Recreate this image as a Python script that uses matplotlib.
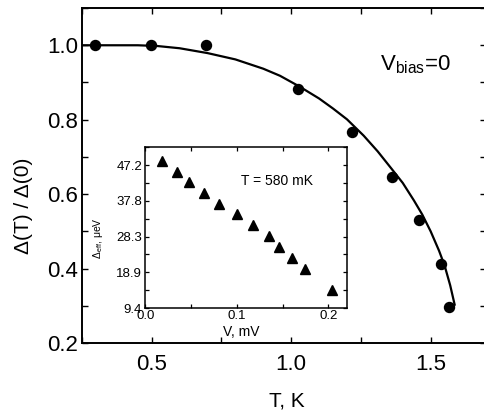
import matplotlib
matplotlib.use("Agg")
import matplotlib.pyplot as plt
from matplotlib.ticker import MultipleLocator

plt.rcParams["font.family"] = ["Liberation Sans", "DejaVu Sans"]
plt.rcParams["mathtext.fontset"] = "custom"
plt.rcParams["mathtext.rm"] = "Liberation Sans"
plt.rcParams["mathtext.it"] = "Liberation Sans:italic"

# main panel: measured gap vs temperature
temp_K = [0.296, 0.496, 0.693, 1.025, 1.217, 1.362, 1.457, 1.537, 1.564]
gap_ratio = [1.0, 1.0, 1.0, 0.882, 0.767, 0.647, 0.531, 0.411, 0.296]

# fit curve
curve_T = [0.25, 0.35, 0.45, 0.52, 0.60, 0.70, 0.80, 0.90, 0.96, 1.03,
           1.10, 1.15, 1.20, 1.26, 1.31, 1.36, 1.40, 1.44, 1.47, 1.50,
           1.53, 1.55, 1.57, 1.586]
curve_gap = [1.0, 1.0, 1.0, 0.998, 0.992, 0.979, 0.962, 0.937, 0.918, 0.889,
             0.857, 0.830, 0.801, 0.757, 0.715, 0.668, 0.630, 0.583, 0.545, 0.500,
             0.448, 0.408, 0.355, 0.303]

# inset: effective gap vs bias voltage at 580 mK
bias_mV = [0.0176, 0.0347, 0.0479, 0.0644, 0.0799, 0.100, 0.1176, 0.1352,
           0.1457, 0.1604, 0.1743, 0.2036]
gap_eff = [48.3, 45.4, 42.6, 39.9, 36.9, 34.2, 31.5, 28.5, 25.6, 22.8, 19.9, 14.3]
inset_yticks = [9.4, 18.9, 28.3, 37.8, 47.2]

fig = plt.figure(figsize=(4.85, 4.13), dpi=100)
ax = fig.add_axes([0.169, 0.1695, 0.834, 0.811])

ax.plot(curve_T, curve_gap, color="black", lw=1.6)
ax.plot(temp_K, gap_ratio, "o", color="black", ms=7.2)

ax.set_xlim(0.25, 1.7)
ax.set_ylim(0.2, 1.1)
ax.xaxis.set_major_locator(MultipleLocator(0.5))
ax.xaxis.set_minor_locator(MultipleLocator(0.25))
ax.yaxis.set_major_locator(MultipleLocator(0.2))
ax.yaxis.set_minor_locator(MultipleLocator(0.1))
ax.set_yticks([0.2, 0.4, 0.6, 0.8, 1.0])
ax.tick_params(which="both", direction="in", top=True, right=True,
               length=4, width=1.0, labelsize=16)
ax.tick_params(axis="x", pad=8)
ax.tick_params(axis="y", pad=3)
for sp in ax.spines.values():
    sp.set_linewidth(1.4)

ax.set_xlabel("T, K", fontsize=15)
ax.set_ylabel("Δ(T) / Δ(0)", fontsize=15)
ax.xaxis.set_label_coords(0.507, -0.145)
ax.yaxis.set_label_coords(-0.12, 0.41)

ax.text(1.32, 0.933, r"V$_{\rm bias}$=0", fontsize=16)

# inset
ins = fig.add_axes([0.300, 0.2535, 0.415, 0.391])
ins.plot(bias_mV, gap_eff, "^", color="black", ms=7.5)
ins.set_xlim(0.0, 0.22)
ins.set_ylim(9.4, 52.0)
ins.xaxis.set_major_locator(MultipleLocator(0.1))
ins.xaxis.set_minor_locator(MultipleLocator(0.05))
ins.set_yticks(inset_yticks)
ins.set_yticklabels([f"{v:.1f}" for v in inset_yticks])
ins.set_yticks([14.15, 23.6, 33.05, 42.5, 51.9], minor=True)
ins.tick_params(which="both", direction="in", top=True, right=True,
                length=3, width=0.9, labelsize=9.5)
ins.tick_params(axis="x", pad=1.5)
ins.tick_params(axis="y", pad=2.5)
for sp in ins.spines.values():
    sp.set_linewidth(1.1)

ins.set_xlabel("V, mV", fontsize=10)
ins.set_ylabel(r"$\Delta_{\rm eff}$, μeV", fontsize=7.5)
ins.xaxis.set_label_coords(0.478, -0.105)
ins.yaxis.set_label_coords(-0.20, 0.436)
ins.text(0.104, 41.9, "T = 580 mK", fontsize=10)

fig.savefig("out.png", dpi=100)
